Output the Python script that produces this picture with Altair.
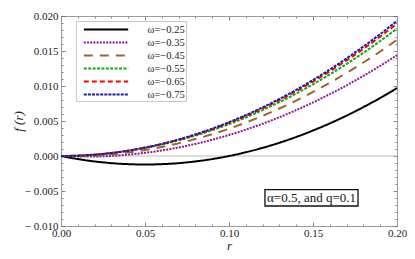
import altair as alt
import pandas as pd

# ---- data ----
r_values = [0.00, 0.01, 0.02, 0.03, 0.04, 0.05, 0.06, 0.07, 0.08, 0.09, 0.10,
            0.11, 0.12, 0.13, 0.14, 0.15, 0.16, 0.17, 0.18, 0.19, 0.20]

f_w025 = [0.0, -0.000436, -0.000776, -0.001019, -0.001164, -0.001213, -0.001164,
          -0.001019, -0.000776, -0.000437, 0.0, 0.000534, 0.001164, 0.001892,
          0.002716, 0.003638, 0.004656, 0.005772, 0.006984, 0.008294, 0.00970]
f_w035 = [0.0, -0.000078, -0.000072, 0.000018, 0.000192, 0.000450, 0.000792,
          0.001218, 0.001728, 0.002322, 0.003000, 0.003762, 0.004608, 0.005538,
          0.006552, 0.007650, 0.008832, 0.010098, 0.011448, 0.012882, 0.014400]
f_w045 = [0.0, -0.000006, 0.000076, 0.000246, 0.000504, 0.000850, 0.001284,
          0.001806, 0.002416, 0.003114, 0.003900, 0.004774, 0.005736, 0.006786,
          0.007924, 0.009150, 0.010464, 0.011866, 0.013356, 0.014934, 0.016600]
f_w055 = [0.0, 0.000046, 0.000182, 0.000410, 0.000728, 0.001138, 0.001638,
          0.002230, 0.002912, 0.003686, 0.004550, 0.005506, 0.006552, 0.007690,
          0.008918, 0.010238, 0.011648, 0.013150, 0.014742, 0.016426, 0.018200]
f_w065 = [0.0, 0.000047, 0.000189, 0.000425, 0.000756, 0.001181, 0.001701,
          0.002315, 0.003024, 0.003827, 0.004725, 0.005717, 0.006804, 0.007985,
          0.009261, 0.010631, 0.012096, 0.013655, 0.015309, 0.017057, 0.018900]
f_w075 = [0.0, 0.000048, 0.000193, 0.000434, 0.000772, 0.001206, 0.001737,
          0.002364, 0.003088, 0.003908, 0.004825, 0.005838, 0.006948, 0.008154,
          0.009457, 0.010856, 0.012352, 0.013944, 0.015633, 0.017418, 0.019300]

series_labels = ["ω=−0.25", "ω=−0.35", "ω=−0.45", "ω=−0.55", "ω=−0.65", "ω=−0.75"]
series_values = [f_w025, f_w035, f_w045, f_w055, f_w065, f_w075]
series_colors = ["#000000", "#8a1a8a", "#996633", "#11aa11", "#ff0000", "#1a1aaa"]
series_dashes = [[1, 0], [2, 1.2], [9, 7], [3, 1.4], [5, 3], [3, 1.1]]

x_tick_values = [0.00, 0.01, 0.02, 0.03, 0.04, 0.05, 0.06, 0.07, 0.08, 0.09, 0.10,
                 0.11, 0.12, 0.13, 0.14, 0.15, 0.16, 0.17, 0.18, 0.19, 0.20]
y_tick_values = [-0.010, -0.009, -0.008, -0.007, -0.006, -0.005, -0.004, -0.003,
                 -0.002, -0.001, 0.000, 0.001, 0.002, 0.003, 0.004, 0.005, 0.006,
                 0.007, 0.008, 0.009, 0.010, 0.011, 0.012, 0.013, 0.014, 0.015,
                 0.016, 0.017, 0.018, 0.019, 0.020]

annotation_text = "α=0.5, and q=0.1"
annotation_box = {"x1": 0.1214, "x2": 0.1768, "y1": -0.00479, "y2": -0.00714,
                  "tx": 0.1491, "ty": -0.00597, "label": annotation_text}

# ---- tables ----
rows = []
for lab, ys in zip(series_labels, series_values):
    for r, f in zip(r_values, ys):
        rows.append({"r": r, "f": f, "series": lab})
df = pd.DataFrame(rows)
ann_df = pd.DataFrame([annotation_box])

FONT = "Liberation Serif"
TICK = "#666666"
FRAME = "#9a9a9a"
LABEL = "#222222"

xscale = alt.Scale(domain=[0, 0.2], nice=False, zero=False)
yscale = alt.Scale(domain=[-0.01, 0.02], nice=False, zero=False)

x_major = "round(datum.value*100) % 5 == 0"
y_major = "round(datum.value*1000) % 5 == 0"

x_tick_size = alt.ExprRef(expr=f"({x_major}) ? -4 : -2")
y_tick_size = alt.ExprRef(expr=f"({y_major}) ? -4 : -2")

bottom_axis = alt.Axis(
    orient="bottom", values=x_tick_values, tickSize=x_tick_size, tickColor=TICK,
    tickWidth=0.8, domainColor=FRAME, domainWidth=1, grid=False,
    labelExpr=f"({x_major}) ? format(datum.value, '.2f') : ''",
    labelFont=FONT, labelFontSize=11, labelColor=LABEL, labelPadding=5,
    labelFlush=False, labelOverlap=False,
    title="r", titleFont=FONT, titleFontStyle="italic", titleFontWeight="normal",
    titleFontSize=13, titleColor=LABEL, titleX=168, titleY=19,
    titleBaseline="middle", titleAlign="center",
)
left_axis = alt.Axis(
    orient="left", values=y_tick_values, tickSize=y_tick_size, tickColor=TICK,
    tickWidth=0.8, domainColor=FRAME, domainWidth=1, grid=False,
    labelExpr=(f"({y_major}) ? (datum.value < -0.0000001 ? '− ' + format(-datum.value, '.3f')"
               " : format(abs(datum.value), '.3f')) : ''"),
    labelFont=FONT, labelFontSize=11, labelColor=LABEL, labelPadding=7,
    labelFlush=False, labelOverlap=False,
    title="f (r)", titleFont=FONT, titleFontStyle="italic", titleFontWeight="normal",
    titleFontSize=13, titleColor=LABEL, titleX=-43, titleY=105,
    titleBaseline="middle", titleAlign="center", titleAngle=270,
)
top_axis = alt.Axis(
    orient="top", values=x_tick_values, tickSize=x_tick_size, tickColor=TICK,
    tickWidth=0.8, domainColor=FRAME, domainWidth=1, grid=False, labels=False,
    title=None,
)
right_axis = alt.Axis(
    orient="right", values=y_tick_values, tickSize=y_tick_size, tickColor=TICK,
    tickWidth=0.8, domainColor=FRAME, domainWidth=1, grid=False, labels=False,
    title=None,
)

legend = alt.Legend(
    orient="none", legendX=15, legendY=5, title=None,
    symbolType="M-3.55,0H3.55", symbolSize=156, symbolStrokeWidth=2.2,
    symbolOffset=21.5, labelOffset=34,
    labelFont=FONT, labelFontSize=10.5, labelColor=LABEL,
    strokeColor="#c8c8c8", fillColor="white", padding=1, rowPadding=0,
)

zero_rule = alt.Chart(df).mark_rule(color="#aaaaaa", strokeWidth=0.8).encode(
    x=alt.X("min(r):Q", scale=xscale, axis=top_axis),
    x2="max(r):Q",
    y=alt.YDatum(0, type="quantitative", scale=yscale, axis=right_axis),
)

lines = alt.Chart(df).mark_line(strokeWidth=2, interpolate="monotone").encode(
    x=alt.X("r:Q", scale=xscale, axis=bottom_axis),
    y=alt.Y("f:Q", scale=yscale, axis=left_axis),
    color=alt.Color("series:N", sort=series_labels,
                    scale=alt.Scale(domain=series_labels, range=series_colors),
                    legend=legend),
    strokeDash=alt.StrokeDash("series:N", sort=series_labels,
                              scale=alt.Scale(domain=series_labels, range=series_dashes),
                              legend=legend),
)

box = alt.Chart(ann_df).mark_rect(fill="white", stroke="#111111", strokeWidth=1.3).encode(
    x=alt.X("x1:Q", axis=None), x2="x2:Q",
    y=alt.Y("y1:Q", axis=None), y2="y2:Q",
)
text = alt.Chart(ann_df).mark_text(font=FONT, fontSize=13, color="#111111").encode(
    x=alt.X("tx:Q", axis=None), y=alt.Y("ty:Q", axis=None), text="label:N",
)

chart = alt.layer(zero_rule, lines, box, text).resolve_axis(
    x="independent", y="independent"
).properties(
    width=336, height=210,
    autosize=alt.AutoSizeParams(type="none"),
    padding={"left": 53, "top": 8, "right": 10, "bottom": 25},
).configure_view(stroke=None).configure(background="white")

chart.save("out.html", embed_options={"renderer": "svg", "actions": False})
